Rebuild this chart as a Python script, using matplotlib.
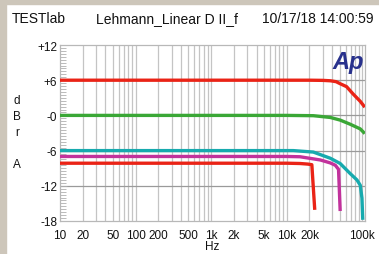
import matplotlib
matplotlib.use("Agg")
import matplotlib.pyplot as plt
from matplotlib.patches import Rectangle
from matplotlib.ticker import FixedLocator, NullFormatter, MultipleLocator

plt.rcParams['font.family'] = ['Liberation Sans', 'DejaVu Sans']

# ---- data ----
red_top_f = [10, 100, 1000, 10000, 20000, 30000, 38000, 45000, 51000, 62000, 75000, 94000, 108000]
red_top_db = [6.0, 6.0, 6.0, 6.0, 6.0, 5.97, 5.9, 5.75, 5.4, 4.9, 3.7, 2.4, 1.4]

green_f = [10, 100, 1000, 10000, 22500, 37700, 51000, 69000, 94000, 108000]
green_db = [0.0, 0.0, 0.0, 0.0, -0.05, -0.35, -0.8, -1.5, -2.3, -3.1]

cyan_f = [10, 100, 1000, 10000, 12200, 22500, 37700, 51000, 69000, 85000, 94000, 99000, 101500]
cyan_db = [-6.0, -6.0, -6.0, -6.0, -6.0, -6.25, -7.3, -8.2, -9.9, -11.0, -11.9, -14.1, -17.8]

mag_f = [10, 100, 1000, 10000, 15000, 27900, 37700, 44000, 48500, 51000]
mag_db = [-7.0, -7.0, -7.0, -7.0, -7.05, -7.6, -8.1, -8.5, -9.2, -16.3]

red_bot_f = [10, 100, 1000, 10000, 15000, 19000, 21500, 23500]
red_bot_db = [-8.15, -8.15, -8.15, -8.15, -8.2, -8.3, -8.4, -16.1]

y_ticks = [12, 6, 0, -6, -12, -18]
y_labels = ['+12', '+6', '-0', '-6', '-12', '-18']
x_ticks = [10, 20, 50, 100, 200, 500, 1000, 2000, 5000, 10000, 20000, 100000]
x_labels = ['10', '20', '50', '100', '200', '500', '1k', '2k', '5k', '10k', '20k', '100k']

W, H = 379, 255
fig = plt.figure(figsize=(W / 100, H / 100), dpi=100)
fig.patch.set_facecolor('white')

beige = '#cdc6ba'
fig.patches.append(Rectangle((0, 0), 6 / W, 1, transform=fig.transFigure, color=beige, zorder=0))
fig.patches.append(Rectangle((0, 1 - 5 / H), 1, 5 / H, transform=fig.transFigure, color=beige, zorder=0))

ax = fig.add_axes([60 / W, 33 / H, 304.5 / W, 176 / H])
ax.set_xscale('log')
ax.set_xlim(10, 107000)
ax.set_ylim(-18, 12)

# grid
minor = [m * 10 ** e for e in range(1, 6) for m in range(2, 10) if m * 10 ** e < 107000]
for f in minor + [100, 1000, 10000, 100000]:
    ax.axvline(f, color='#c4c4c4', lw=0.9, zorder=1)
for y in [6, 0, -6, -12]:
    ax.axhline(y, color='#9a9a9a', lw=0.9, zorder=1)

lw = 2.4
ax.plot(red_top_f, red_top_db, color='#ea2316', lw=lw, zorder=3, solid_capstyle='butt')
ax.plot(green_f, green_db, color='#3aa736', lw=lw, zorder=3, solid_capstyle='butt')
ax.plot(cyan_f, cyan_db, color='#17aaae', lw=lw, zorder=3, solid_capstyle='butt')
ax.plot(mag_f, mag_db, color='#c2329c', lw=lw, zorder=3, solid_capstyle='butt')
ax.plot(red_bot_f, red_bot_db, color='#ea2316', lw=lw, zorder=3, solid_capstyle='butt')

for s in ax.spines.values():
    s.set_color('#b8b8b8')
    s.set_linewidth(0.9)

ax.xaxis.set_major_locator(FixedLocator(x_ticks))
ax.set_xticklabels(x_labels)
ax.xaxis.set_minor_locator(FixedLocator([]))
ax.xaxis.set_minor_formatter(NullFormatter())
ax.tick_params(axis='x', which='both', length=0, pad=6, labelsize=8.5, colors='#111111')

ax.set_yticks(y_ticks)
ax.set_yticklabels(y_labels)
ax.yaxis.set_minor_locator(MultipleLocator(0.5))
ax.tick_params(axis='y', which='major', direction='in', length=5, width=0.7, color='#aaaaaa',
               pad=2, labelsize=8.5, labelcolor='#111111')
ax.tick_params(axis='y', which='minor', direction='in', length=4, width=0.6, color='#b0b0b0')

fig.text(17 / W, 1 - 133 / H, 'd\nB\nr\n \nA', ha='center', va='center', fontsize=8.5,
         linespacing=1.45, color='#111111')
fig.text(212 / W, 1 - 247 / H, 'Hz', ha='center', va='center', fontsize=8.5, color='#111111')

ty = 1 - 19 / H
fig.text(12 / W, ty, 'TESTlab', ha='left', va='center', fontsize=10, color='#111111')
fig.text(96 / W, ty, 'Lehmann_Linear D II_f', ha='left', va='center', fontsize=10, color='#111111')
fig.text(373 / W, ty, '10/17/18 14:00:59', ha='right', va='center', fontsize=10, color='#111111')

fig.text(348 / W, 1 - 62 / H, 'Ap', ha='center', va='center', fontsize=17, fontweight='bold',
         fontstyle='italic', color='#28318c', zorder=5)

fig.savefig('out.png', dpi=100, facecolor='white')
